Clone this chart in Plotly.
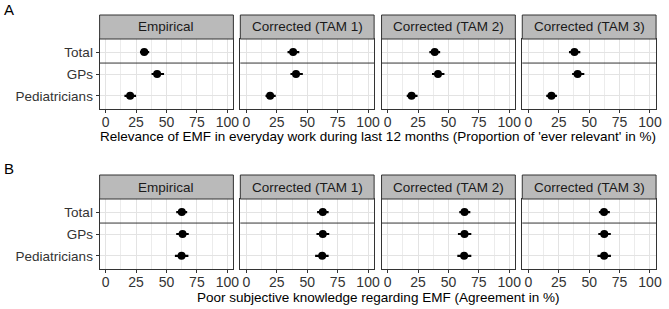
import plotly.graph_objects as go

panels = ["Empirical", "Corrected (TAM 1)", "Corrected (TAM 2)", "Corrected (TAM 3)"]
groups = ["Total", "GPs", "Pediatricians"]

# Panel A: Relevance of EMF (estimate, lower, upper) per panel, per group
A_est = [[31.7, 42.3, 20.1], [38.4, 40.8, 19.5], [38.7, 41.4, 19.7], [37.9, 40.5, 19.0]]
A_lo = [[28.2, 37.7, 15.4], [33.8, 36.2, 15.7], [34.3, 36.5, 15.7], [33.4, 36.0, 14.7]]
A_hi = [[35.8, 48.0, 25.0], [43.5, 46.4, 24.1], [43.2, 46.7, 24.6], [42.7, 46.0, 23.5]]

# Panel B: Poor subjective knowledge
B_est = [[62.6, 63.2, 62.4], [62.8, 62.8, 62.3], [63.2, 63.2, 62.9], [62.2, 62.4, 62.3]]
B_lo = [[58.0, 58.0, 56.9], [58.1, 57.6, 56.5], [58.9, 57.8, 57.3], [58.0, 57.5, 56.8]]
B_hi = [[67.0, 68.3, 68.0], [67.6, 68.1, 67.6], [68.0, 68.8, 68.8], [67.0, 67.8, 67.9]]

x_ticks = [0, 25, 50, 75, 100]
x_minor = [12.5, 37.5, 62.5, 87.5]

title_A = "Relevance of EMF in everyday work during last 12 months (Proportion of 'ever relevant' in %)"
title_B = "Poor subjective knowledge regarding EMF (Agreement in %)"

W, H = 669, 309
FONT = "Liberation Sans, Arial, sans-serif"

col_left = [100.5, 242.5, 385.0, 527.0]
col_w = 135.0
blocks = [
    dict(est=A_est, lo=A_lo, hi=A_hi, strip=(15, 39), plot=(39, 109), title=title_A, title_y=137, label="A", label_y=10),
    dict(est=B_est, lo=B_lo, hi=B_hi, strip=(175, 199), plot=(199, 269), title=title_B, title_y=297, label="B", label_y=168),
]

fig = go.Figure()
layout = {}
shapes = []
annotations = []
ypos = [1, 2, 3]

k = 0
for b in blocks:
    for c in range(4):
        k += 1
        xa = "xaxis" if k == 1 else f"xaxis{k}"
        ya = "yaxis" if k == 1 else f"yaxis{k}"
        xr = "x" if k == 1 else f"x{k}"
        yr = "y" if k == 1 else f"y{k}"
        x0 = col_left[c] / W
        x1 = (col_left[c] + col_w) / W
        y0 = 1 - b["plot"][1] / H
        y1 = 1 - b["plot"][0] / H
        est = b["est"][c]
        lo = b["lo"][c]
        hi = b["hi"][c]
        fig.add_trace(go.Scatter(
            x=est, y=ypos, xaxis=xr, yaxis=yr, mode="markers",
            marker=dict(color="black", size=8, symbol="circle"),
            error_x=dict(type="data", symmetric=False,
                         array=[h - e for h, e in zip(hi, est)],
                         arrayminus=[e - l for e, l in zip(est, lo)],
                         color="black", thickness=2.2, width=0),
            showlegend=False, hoverinfo="skip"))
        layout[xa] = dict(
            domain=[x0, x1], anchor=yr, range=[-5, 105],
            tickvals=x_ticks, ticktext=[str(v) for v in x_ticks],
            ticks="outside", ticklen=3, tickcolor="#333333",
            ticklabelstandoff=-3,
            tickfont=dict(family=FONT, size=14, color="#333333"),
            showgrid=True, gridcolor="#e3e3e3", gridwidth=1.2,
            minor=dict(tickvals=x_minor, showgrid=True, gridcolor="#ececec", gridwidth=0.8, ticks=""),
            showline=True, linecolor="#333333", linewidth=1, mirror=True,
            zeroline=False, fixedrange=True,
        )
        layout[ya] = dict(
            domain=[y0, y1], anchor=xr, range=[3.6, 0.4],
            tickvals=ypos, ticktext=groups if c == 0 else ["", "", ""],
            showticklabels=(c == 0),
            ticks="outside" if c == 0 else "", ticklen=3, tickcolor="#333333",
            tickfont=dict(family=FONT, size=13.5, color="#333333"),
            showgrid=True, gridcolor="#e3e3e3", gridwidth=1.2,
            showline=True, linecolor="#333333", linewidth=1, mirror=True,
            zeroline=False, fixedrange=True,
        )
        # separator between Total and groups
        shapes.append(dict(type="line", xref=f"{xr} domain", yref=yr, x0=0, x1=1, y0=1.5, y1=1.5,
                           line=dict(color="#333333", width=1)))
        # strip
        sy0 = 1 - b["strip"][1] / H
        sy1 = 1 - b["strip"][0] / H
        shapes.append(dict(type="rect", xref="paper", yref="paper", x0=x0, x1=x1, y0=sy0, y1=sy1,
                           fillcolor="#bababa", line=dict(color="#333333", width=1), layer="above"))
        annotations.append(dict(text=panels[c], xref="paper", yref="paper", x=(x0 + x1) / 2,
                                y=(sy0 + sy1) / 2, showarrow=False, xanchor="center", yanchor="middle",
                                font=dict(family=FONT, size=13.5, color="#1a1a1a")))
    # axis title
    annotations.append(dict(text=b["title"], xref="paper", yref="paper",
                            x=(col_left[0] + col_left[3] + col_w) / 2 / W, y=1 - b["title_y"] / H,
                            showarrow=False, xanchor="center", yanchor="middle",
                            font=dict(family=FONT, size=13.5, color="black")))
    annotations.append(dict(text=b["label"], xref="paper", yref="paper", x=2 / W, y=1 - b["label_y"] / H,
                            showarrow=False, xanchor="left", yanchor="middle",
                            font=dict(family=FONT, size=15, color="black")))

fig.update_layout(**layout)
fig.update_layout(
    width=W, height=H, margin=dict(l=0, r=0, t=0, b=0),
    paper_bgcolor="white", plot_bgcolor="white",
    shapes=shapes, annotations=annotations, showlegend=False,
)
fig.write_html("out.html", config={"displayModeBar": False},
               post_script="document.body.style.margin='0';document.body.style.padding='0';document.body.style.overflow='hidden';")
